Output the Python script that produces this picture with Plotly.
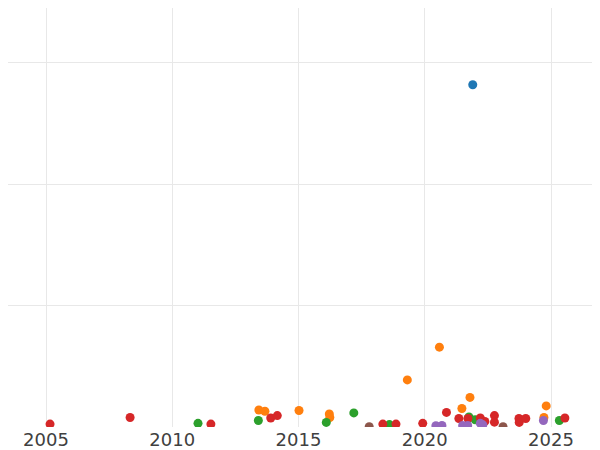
import plotly.graph_objects as go

blue_x = [2021.9]
blue_y = [141.0]

orange_x = [2013.43, 2013.67, 2015.02, 2016.22, 2016.24, 2019.31, 2020.58, 2021.47, 2021.79, 2024.72, 2024.81]
orange_y = [7.0, 6.5, 6.8, 5.4, 3.9, 19.4, 32.9, 7.6, 12.2, 3.9, 8.7]

green_x = [2011.02, 2013.41, 2016.10, 2017.19, 2018.60, 2021.75, 2022.00, 2025.33]
green_y = [1.5, 2.7, 1.9, 5.8, 1.0, 4.1, 3.0, 2.7]

red_x = [2005.16, 2008.33, 2011.53, 2013.90, 2014.16, 2018.34, 2018.86, 2019.92, 2020.86, 2021.35,
         2021.71, 2022.20, 2022.38, 2022.76, 2022.76, 2023.73, 2023.74, 2024.00, 2025.55]
red_y = [1.2, 3.9, 1.2, 3.7, 4.7, 1.2, 1.2, 1.5, 6.0, 3.5,
         3.5, 3.7, 2.3, 4.7, 2.0, 3.5, 1.9, 3.5, 3.7]

purple_x = [2020.44, 2020.68, 2021.50, 2021.70, 2022.20, 2022.30, 2024.70]
purple_y = [0.5, 0.6, 0.6, 0.6, 1.5, 0.9, 2.7]

brown_x = [2017.80, 2023.10]
brown_y = [0.1, 0.1]

x_ticks = [2005, 2010, 2015, 2020, 2025]

series = [
    ("A", blue_x, blue_y, "#1f77b4"),
    ("B", orange_x, orange_y, "#ff7f0e"),
    ("C", green_x, green_y, "#2ca02c"),
    ("D", red_x, red_y, "#d62728"),
    ("E", purple_x, purple_y, "#9467bd"),
    ("F", brown_x, brown_y, "#8c564b"),
]

fig = go.Figure()
for name, xs, ys, col in series:
    fig.add_trace(go.Scatter(x=xs, y=ys, mode="markers", name=name,
                             marker=dict(color=col, size=9, line=dict(width=0)),
                             showlegend=False))

fig.update_layout(
    width=600, height=450,
    margin=dict(l=0, r=8, t=0, b=30.5),
    paper_bgcolor="white", plot_bgcolor="white",
    font=dict(family="DejaVu Sans", size=18, color="#404040"),
    xaxis=dict(range=[2003.495, 2026.94], tickvals=x_ticks, ticktext=[str(t) for t in x_ticks],
               showgrid=True, gridcolor="#e8e8e8", gridwidth=1, zeroline=False,
               showline=False, ticks=""),
    yaxis=dict(range=[0, 172.6], dtick=50, showticklabels=False, showgrid=True,
               gridcolor="#e8e8e8", gridwidth=1, zeroline=False, showline=False, ticks=""),
)

fig.write_html("out.html")
